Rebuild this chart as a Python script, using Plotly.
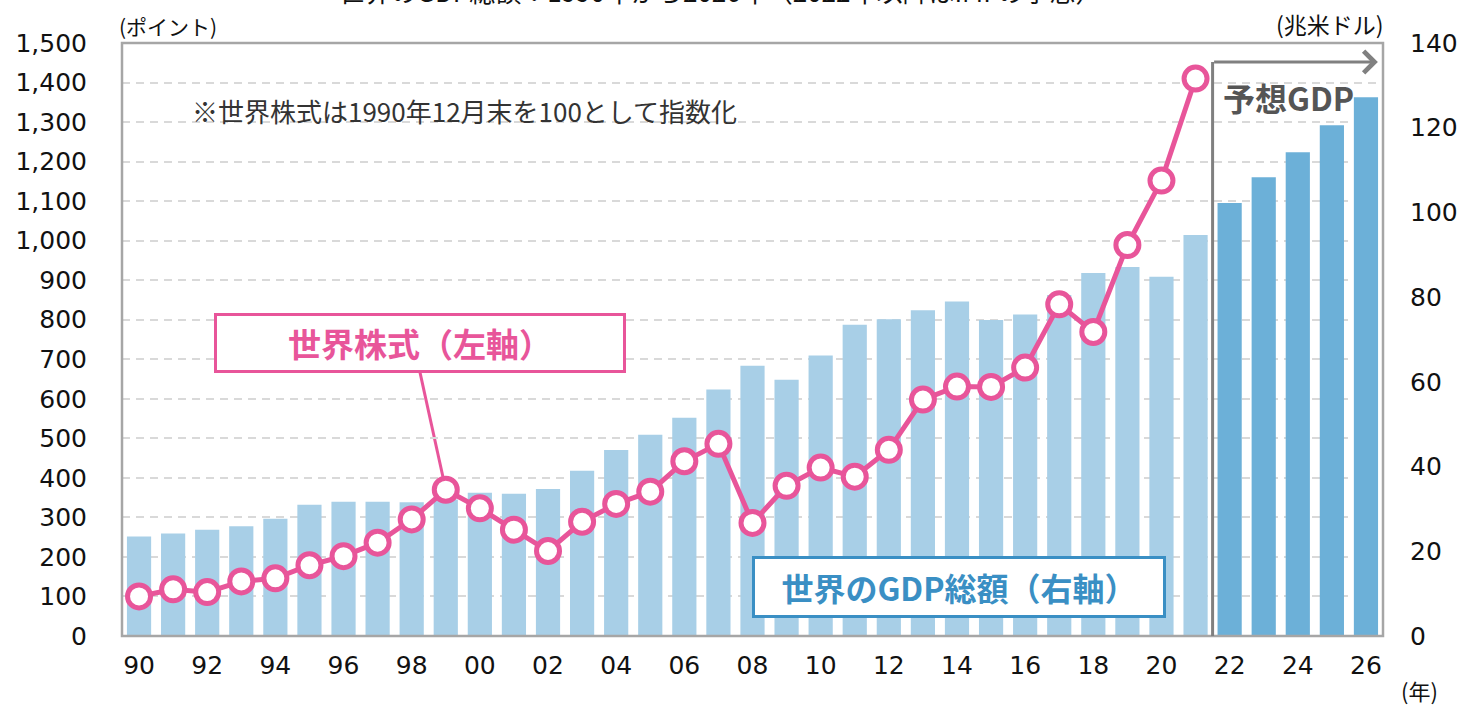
import plotly.graph_objects as go

# ---- data ----
years = list(range(1990, 2027))
gdp_trillion_usd = [23.5, 24.2, 25.1, 25.9, 27.7, 31.0, 31.7, 31.7, 31.6, 32.2,
                    33.8, 33.6, 34.7, 39.0, 43.9, 47.5, 51.5, 58.2, 63.8, 60.5,
                    66.2, 73.5, 74.8, 76.9, 79.0, 74.6, 75.9, 80.5, 85.7, 87.1,
                    84.8, 94.7, 102.2, 108.3, 114.2, 120.6, 127.2]
forecast_start = 2022
stock_years = list(range(1990, 2022))
world_stocks = [100, 118, 111, 138, 146, 179, 202, 236, 295, 370,
                323, 269, 215, 289, 334, 365, 442, 486, 286, 380,
                426, 403, 471, 598, 631, 630, 679, 839, 769, 989,
                1152, 1410]
x_tickvals = list(range(1990, 2027, 2))
x_ticktext = [f"{y % 100:02d}" for y in x_tickvals]
left_ticks = list(range(0, 1501, 100))
right_ticks = list(range(0, 141, 20))

PINK = "#e8559a"
BLUE_TXT = "#3a8fc4"
BAR_HIST = "#a8cfe7"
BAR_FCST = "#6cb0d8"
JP = "Noto Sans CJK JP"
NUM = "DejaVu Sans"

bar_colors = [BAR_FCST if y >= forecast_start else BAR_HIST for y in years]

fig = go.Figure()
fig.add_trace(go.Bar(
    x=years, y=gdp_trillion_usd, marker=dict(color=bar_colors, line=dict(width=0)),
    width=0.71, yaxis="y", name="GDP", hoverinfo="x+y"))
fig.add_trace(go.Scatter(
    x=stock_years, y=world_stocks, yaxis="y2", mode="lines+markers",
    line=dict(color=PINK, width=5),
    marker=dict(size=23, color="white", line=dict(color=PINK, width=5)),
    name="stocks", cliponaxis=False))

fig.update_layout(
    width=1459, height=705,
    margin=dict(l=122, r=76, t=43, b=69, autoexpand=False),
    paper_bgcolor="white", plot_bgcolor="white",
    showlegend=False,
    font=dict(family=JP, color="#111111"),
    xaxis=dict(range=[1989.5, 2026.5], tickvals=x_tickvals, ticktext=x_ticktext,
               showgrid=False, zeroline=False, showline=False, ticks="",
               tickfont=dict(family=NUM, size=25, color="#111111"),
               ticklabelstandoff=12, automargin=False),
    yaxis=dict(side="right", range=[0, 140], tickvals=right_ticks,
               showgrid=False, zeroline=False, showline=False, ticks="",
               tickfont=dict(family=NUM, size=25, color="#111111"),
               ticklabelstandoff=26, automargin=False),
    yaxis2=dict(overlaying="y", side="left", range=[0, 1500], tickvals=left_ticks,
                tickformat=",", showgrid=True, gridcolor="#d9d9d9", gridwidth=2,
                griddash="8px,6px", zeroline=False, showline=False, ticks="",
                tickfont=dict(family=NUM, size=25, color="#111111"),
                ticklabelstandoff=34, automargin=False),
    bargap=0.3,
)

shapes = [
    # plot frame
    dict(type="rect", xref="paper", yref="paper", x0=0, y0=0, x1=1, y1=1,
         line=dict(color="#a6a6a6", width=2.5), layer="above"),
    # forecast bracket (vertical part)
    dict(type="line", xref="x", yref="paper", x0=forecast_start - 0.5, x1=forecast_start - 0.5,
         y0=0, y1=0.968, line=dict(color="#808080", width=3), layer="above"),
    # pointer from label box to the 1999 point
    dict(type="line", xref="x", yref="y2", x0=1998.24, y0=668, x1=1999, y1=370,
         line=dict(color=PINK, width=3), layer="below"),
]
fig.update_layout(shapes=shapes)

annotations = [
    # title, cropped at the top edge exactly as in the original picture
    dict(text="世界のGDP総額：1990年から2026年（2022年以降はIMFの予想）",
         xref="paper", yref="paper", x=0.475, y=1.054, xanchor="center", yanchor="bottom",
         showarrow=False, font=dict(family=JP, size=26, color="#111111")),
    dict(text="(ポイント)", xref="paper", yref="paper", x=-0.004, y=1.0, xanchor="left",
         yanchor="bottom", showarrow=False, font=dict(family=JP, size=21, color="#111111")),
    dict(text="(兆米ドル)", xref="paper", yref="paper", x=1.002, y=1.0, xanchor="right",
         yanchor="bottom", showarrow=False, font=dict(family=JP, size=23, color="#111111")),
    dict(text="(年)", xref="paper", yref="paper", x=1.0125, y=-0.091, xanchor="left",
         yanchor="middle", showarrow=False, font=dict(family=JP, size=22, color="#111111")),
    dict(text="※世界株式は1990年12月末を100として指数化", xref="paper", yref="paper",
         x=0.0539, y=0.887, xanchor="left", yanchor="middle", showarrow=False,
         font=dict(family=JP, size=26, color="#333333")),
    dict(text="<b>予想GDP</b>", xref="paper", yref="paper", x=0.8715, y=0.909,
         xanchor="left", yanchor="middle", showarrow=False,
         font=dict(family=JP, size=32, color="#555555")),
    # forecast arrow (horizontal)
    dict(text="", xref="x", yref="y2", x=2026.35, y=1452,
         axref="x", ayref="y2", ax=forecast_start - 0.5, ay=1452,
         showarrow=True, arrowhead=4, arrowsize=1.4, arrowwidth=3, arrowcolor="#808080"),
    # label boxes
    dict(text="<b>世界株式（左軸）</b>", xref="paper", yref="paper", x=0.2363, y=0.4949,
         xanchor="center", yanchor="middle", showarrow=False, width=406, height=54,
         bgcolor="white", bordercolor=PINK, borderwidth=3, borderpad=0,
         font=dict(family=JP, size=33, color=PINK)),
    dict(text="<b>世界のGDP総額（右軸）</b>", xref="paper", yref="paper", x=0.6641, y=0.0818,
         xanchor="center", yanchor="middle", showarrow=False, width=408, height=56,
         bgcolor="white", bordercolor=BLUE_TXT, borderwidth=3, borderpad=0,
         font=dict(family=JP, size=32, color=BLUE_TXT)),
]
fig.update_layout(annotations=annotations)

fig.write_html("out.html", config={"displayModeBar": False},
               post_script="document.body.style.margin='0';document.body.style.overflow='hidden';")
